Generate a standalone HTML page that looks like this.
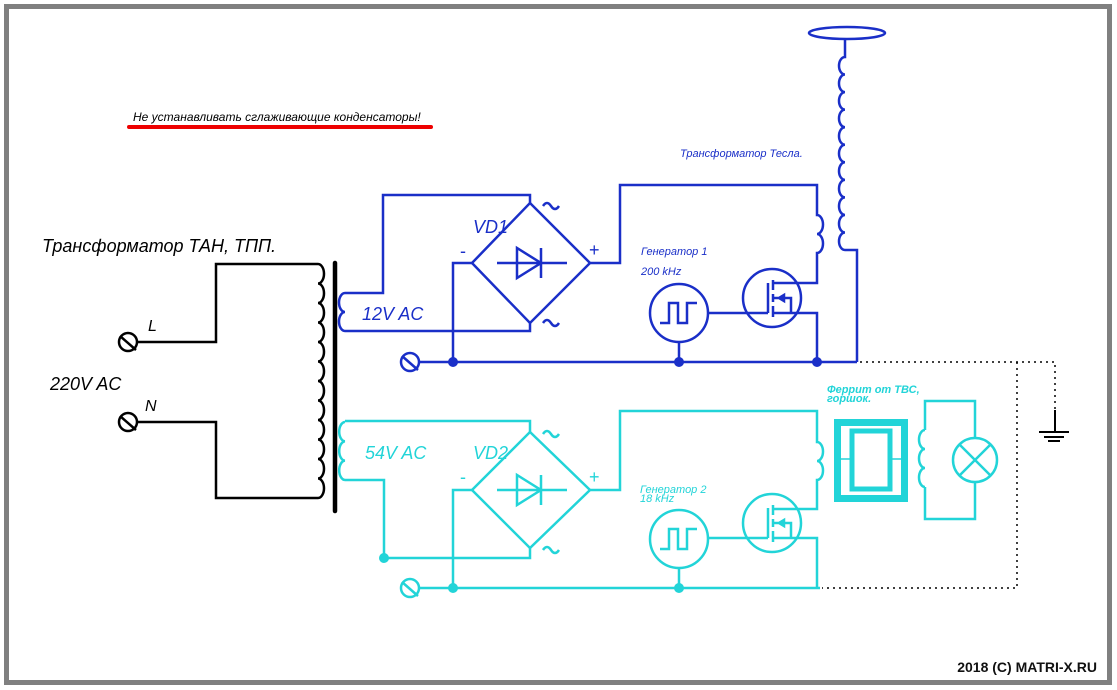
<!DOCTYPE html>
<html><head><meta charset="utf-8"><style>
html,body{margin:0;padding:0;background:#fff;}
svg{display:block;}
text{font-family:"Liberation Sans",Arial,sans-serif;font-style:italic;}
</style></head><body>
<svg width="1117" height="690" viewBox="0 0 1117 690" xmlns="http://www.w3.org/2000/svg">
<rect x="0" y="0" width="1117" height="690" fill="#fff"/>
<rect x="6.5" y="6.5" width="1103" height="676" fill="none" stroke="#808080" stroke-width="5"/>

<text x="133" y="121" font-size="12" fill="#000">Не устанавливать сглаживающие конденсаторы!</text>
<line x1="129" y1="127" x2="431" y2="127" stroke="#e00" stroke-width="4" stroke-linecap="round"/>

<g fill="none" stroke="#000" stroke-width="2.5">
<circle cx="128" cy="342" r="9"/><line x1="120" y1="336" x2="136" y2="350"/>
<circle cx="128" cy="422" r="9"/><line x1="120" y1="416" x2="136" y2="430"/>
<path d="M137 342 H216 V264 H318"/>
<path d="M137 422 H216 V498 H318"/>
<path d="M318 264 a6 9.75 0 0 1 0 19.5 a6 9.75 0 0 1 0 19.5 a6 9.75 0 0 1 0 19.5 a6 9.75 0 0 1 0 19.5 a6 9.75 0 0 1 0 19.5 a6 9.75 0 0 1 0 19.5 a6 9.75 0 0 1 0 19.5 a6 9.75 0 0 1 0 19.5 a6 9.75 0 0 1 0 19.5 a6 9.75 0 0 1 0 19.5 a6 9.75 0 0 1 0 19.5 a6 9.75 0 0 1 0 19.5"/>
</g>
<line x1="335" y1="263" x2="335" y2="511" stroke="#000" stroke-width="4.5" stroke-linecap="round"/>
<text x="42" y="252" font-size="18" fill="#000">Трансформатор ТАН, ТПП.</text>
<text x="148" y="331" font-size="16" fill="#000">L</text>
<text x="145" y="411" font-size="16" fill="#000">N</text>
<text x="50" y="390" font-size="18" fill="#000">220V AC</text>

<g fill="none" stroke="#1a2fc8" stroke-width="2.5">
<path d="M345 293 a6 9.5 0 0 0 0 19 a6 9.5 0 0 0 0 19"/>
<path d="M345 293 H383 V195 H530 V203"/>
<path d="M345 331 H530 V323"/>
<path d="M472 263 L530 203 L590 263 L530 323 Z"/>
<path d="M497 263 H567 M517 248 V278 L541 263 Z M541 248 V278"/>
<path d="M543 206 q4 -6 8 0 q4 6 8 0 M543 323 q4 -6 8 0 q4 6 8 0"/>
<path d="M472 263 H453 V362"/>
<path d="M419 362 H857"/>
<circle cx="410" cy="362" r="9"/><line x1="402" y1="356" x2="418" y2="370"/>
<path d="M590 263 H620 V185 H817 V215 a6 9.5 0 0 1 0 19 a6 9.5 0 0 1 0 19 V283 H773"/>
<path d="M773 313 H817 V362"/>
<circle cx="772" cy="298" r="29"/>
<path d="M768 283 V313 M773 280 V290 M773 294 V302 M773 306 V317 M773 298 H791 V313 M779 298 l5 -3 v6 z"/>
<path d="M708 313 H768"/>
<circle cx="679" cy="313" r="29"/>
<path d="M660 323 H669 V303 H678 V323 H687 V303 H697"/>
<path d="M679 342 V362"/>
<ellipse cx="847" cy="33" rx="38" ry="6"/>
<path d="M845 39 V57 a6 8.77 0 0 0 0 17.55 a6 8.77 0 0 0 0 17.55 a6 8.77 0 0 0 0 17.55 a6 8.77 0 0 0 0 17.55 a6 8.77 0 0 0 0 17.55 a6 8.77 0 0 0 0 17.55 a6 8.77 0 0 0 0 17.55 a6 8.77 0 0 0 0 17.55 a6 8.77 0 0 0 0 17.55 a6 8.77 0 0 0 0 17.55 a6 8.77 0 0 0 0 17.55 H857 V362"/>
</g>
<g fill="#1a2fc8"><circle cx="453" cy="362" r="5"/><circle cx="679" cy="362" r="5"/><circle cx="817" cy="362" r="5"/></g>
<g fill="#1a2fc8">
<text x="362" y="320" font-size="18">12V AC</text>
<text x="473" y="233" font-size="18">VD1</text>
<text x="460" y="257" font-size="18" style="font-style:normal">-</text>
<text x="589" y="256" font-size="18" style="font-style:normal">+</text>
<text x="641" y="255" font-size="11">Генератор 1</text>
<text x="641" y="275" font-size="11">200 kHz</text>
<text x="680" y="157" font-size="11">Трансформатор Тесла.</text>
</g>

<g fill="none" stroke="#000" stroke-width="1.5" stroke-dasharray="2 4">
<path d="M860 362 H1055 V410"/>
<path d="M1017 362 V588 H822"/>
</g>
<g stroke="#000" stroke-width="2"><line x1="1055" y1="410" x2="1055" y2="432"/>
<line x1="1039" y1="432" x2="1069" y2="432"/><line x1="1044" y1="437" x2="1064" y2="437"/><line x1="1048" y1="441" x2="1060" y2="441"/></g>

<g fill="none" stroke="#22d4d8" stroke-width="2.5">
<path d="M345 422 a6 9.67 0 0 0 0 19.33 a6 9.67 0 0 0 0 19.33 a6 9.67 0 0 0 0 19.33"/>
<path d="M345 421 H530 V432"/>
<path d="M345 480 H384 V558 H530 V548"/>
<path d="M472 490 L530 432 L590 490 L530 548 Z"/>
<path d="M497 490 H567 M517 475 V505 L541 490 Z M541 475 V505"/>
<path d="M543 434 q4 -6 8 0 q4 6 8 0 M543 550 q4 -6 8 0 q4 6 8 0"/>
<path d="M472 490 H453 V588"/>
<path d="M419 588 H820"/>
<circle cx="410" cy="588" r="9"/><line x1="402" y1="582" x2="418" y2="596"/>
<path d="M590 490 H620 V411 H817 V442 a6 9.5 0 0 1 0 19 a6 9.5 0 0 1 0 19 V509 H773"/>
<path d="M773 538 H817 V588"/>
<circle cx="772" cy="523" r="29"/>
<path d="M768 508 V538 M773 505 V515 M773 519 V527 M773 531 V542 M773 523 H791 V538 M779 523 l5 -3 v6 z"/>
<path d="M708 538 H768"/>
<circle cx="679" cy="539" r="29"/>
<path d="M660 549 H669 V529 H678 V549 H687 V529 H697"/>
<path d="M679 568 V588"/>
<rect x="837.5" y="422.5" width="67" height="76" stroke-width="7"/>
<rect x="852" y="431" width="38" height="58" stroke-width="5"/>
<path d="M841 459 H852 M890 459 H904" stroke-width="1.5"/>
<path d="M925 430 V401 H975 V438 M975 482 V519 H925 V487"/>
<path d="M925 430 a6 9.5 0 0 0 0 19 a6 9.5 0 0 0 0 19 a6 9.5 0 0 0 0 19"/>
<circle cx="975" cy="460" r="22"/>
<path d="M959 444 L991 476 M991 444 L959 476"/>
</g>
<g fill="#22d4d8"><circle cx="384" cy="558" r="5"/><circle cx="453" cy="588" r="5"/><circle cx="679" cy="588" r="5"/></g>
<g fill="#22d4d8">
<text x="365" y="459" font-size="18">54V AC</text>
<text x="473" y="459" font-size="18">VD2</text>
<text x="460" y="483" font-size="18" style="font-style:normal">-</text>
<text x="589" y="483" font-size="18" style="font-style:normal">+</text>
<text x="640" y="493" font-size="11">Генератор 2</text>
<text x="640" y="502" font-size="11">18 kHz</text>
<text x="827" y="393" font-size="11" font-weight="bold">Феррит от ТВС,</text>
<text x="827" y="402" font-size="11" font-weight="bold">горшок.</text>
</g>

<text x="1097" y="672" font-size="14" font-weight="bold" text-anchor="end" fill="#111" style="font-style:normal">2018 (C) MATRI-X.RU</text>
</svg>
</body></html>
